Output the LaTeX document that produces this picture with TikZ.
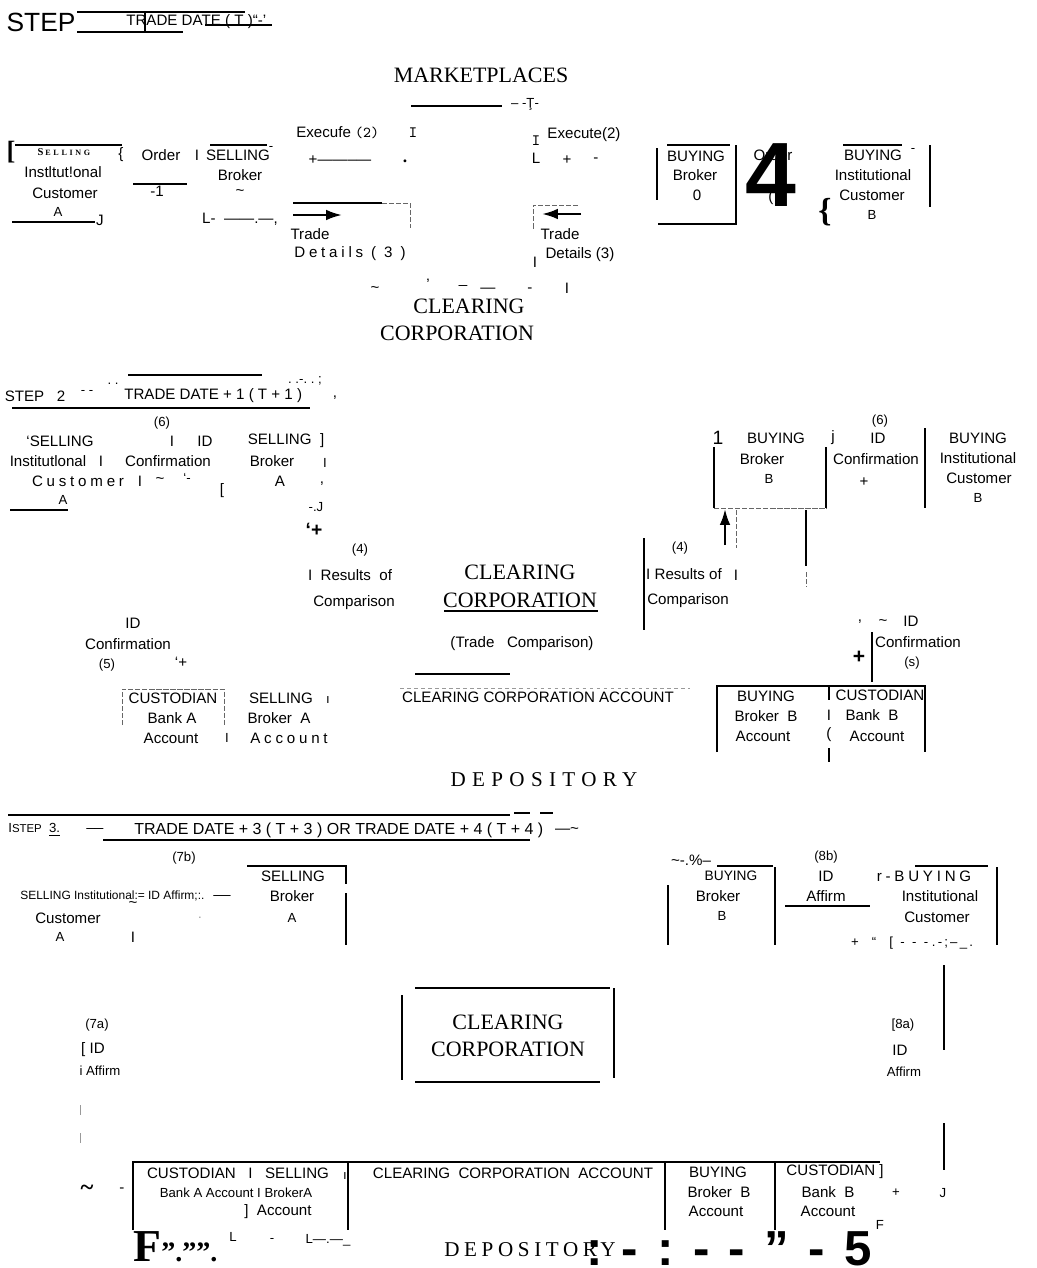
\documentclass[tikz,border=0pt]{standalone}
\usepackage{fontspec}
\setmainfont{Liberation Serif}
\setsansfont{Liberation Sans}
\newfontfamily\spsans[LetterSpace=25]{Liberation Sans}
\newfontfamily\spserif[LetterSpace=30]{Liberation Serif}
\newfontfamily\spserifb[LetterSpace=22]{Liberation Serif}
\usetikzlibrary{positioning,arrows.meta}
\newcommand{\gp}{\hskip 11pt}

\tikzset{
  lb/.style={font=\sffamily\fontsize{8.6}{10}\selectfont, inner sep=0pt},
  sm/.style={font=\sffamily\fontsize{7.5}{9}\selectfont, inner sep=0pt},
  sp/.style={font=\spsans\fontsize{8.6}{10}\selectfont, inner sep=0pt},
  corp/.style={font=\fontsize{12.5}{14}\selectfont, inner sep=0pt},
  dep/.style={font=\spserif\fontsize{12}{14}\selectfont, inner sep=0pt},
  ln/.style={line width=0.7pt},
  dl/.style={line width=0.5pt, dash pattern=on 3pt off 1pt, black!60},
  arr/.style={-{Latex[length=9pt,width=6pt]}, line width=1.3pt},
}

\begin{document}
\begin{tikzpicture}[x=0.02cm,y=-0.02cm]
\useasboundingbox (0,0) rectangle (1036,1268);

% ---------- step 1
\node[font=\sffamily\fontsize{15}{16}\selectfont, inner sep=0pt] (step1) at (41,22) {STEP};
\draw[ln] (77,12) -- (245,12);
\draw[ln] (77,32) -- (183,32);
\draw[line width=1.2pt] (145,12) -- (145,32);
\node[lb, anchor=west] (td1) at (126,22) {TRADE DATE ( T )“-’};
\draw[line width=1pt] (205,25) -- (272,25);

\node[corp] (mkt) at (481,75) {MARKETPLACES};
\draw[ln] (411,106) -- (502,106);
\node[sm] (mkt2) at (525,104) {– -Ţ-};

% selling customer A
\node[font=\bfseries\fontsize{15}{15}\selectfont, inner sep=0pt] (sca0) at (11,152) {[};
\draw[ln] (15,145) -- (122,145);
\node[font=\bfseries\fontsize{6}{6}\selectfont, inner sep=0pt] (sca1) at (64,152) {S\,{\fontsize{4.6}{6}\selectfont E\,\,L\,\,L\,\,I\,\,N\,\,G}};
\node[lb] (sca2) at (63,172) {Instltut!onal};
\node[lb] (sca3) at (65,193) {Customer};
\node[sm] (sca4) at (58,212) {A};
\draw[ln] (12,222) -- (95,222);
\node[lb] (sca5) at (100,220) {J};

\node[lb] (ord0) at (121,155) {\{};
\node[lb] (ord) at (161,155) {Order};
\node[lb] (ord1) at (197,155) {I};
\draw[ln] (133,184) -- (187,184);
\node[lb] (ord2) at (157,191) {-1};

% selling broker
\draw[ln] (210,145) -- (267,145);
\node[lb] (sb1) at (238,155) {SELLING};
\node[sm] (sb1b) at (271,148) {-};
\node[lb] (sb2) at (240,175) {Broker};
\node[lb] (sb3) at (240,193) {\textasciitilde};
\node[lb] (sb4) at (240,219) {L-\ \ ——.—,};

\node[lb, anchor=west] (ex1) at (296,133) {Execufe \texttt{(2)}};
\node[font=\ttfamily\fontsize{9}{9}\selectfont, inner sep=0pt] (ex2) at (413,133) {I};
\node[lb] (ex3) at (340,160) {+——–—};
\node[font=\bfseries, inner sep=0pt] (ex4) at (405,161) {.};

\draw[ln] (293,203) -- (382,203);
\draw[dl] (382,203) -- (410,203) -- (410,228);
\coordinate (t1s) at (293,215);
\coordinate (t1e) at (342,215);
\draw[arr] (t1s) -- (t1e);
\node[lb] (trd1) at (310,234) {Trade};
\node[sp] (det1) at (350,254) {Details ( 3 )};

\node[font=\ttfamily\fontsize{9}{9}\selectfont, inner sep=0pt] (ex5) at (536,141) {I};
\node[lb] (ex6) at (536,158) {L};
\node[lb] (ex7) at (584,135) {Execute(2)};
\node[lb] (ex8) at (567,160) {+};
\node[lb] (ex9) at (596,160) {-};

\draw[dl] (578,205) -- (533,205) -- (533,230);
\coordinate (t2s) at (581,214);
\coordinate (t2e) at (542,214);
\draw[arr] (t2s) -- (t2e);
\node[lb] (trd2) at (560,234) {Trade};
\node[lb] (det2) at (580,255) {Details (3)};
\node[lb] (det3) at (535,262) {I};

\node[lb] (nz1) at (375,290) {\textasciitilde};
\node[lb] (nz2) at (428,284) {’};
\node[lb] (nz3) at (463,285) {\_};
\node[lb] (nz4) at (488,290) {—};
\node[lb] (nz5) at (530,290) {-};
\node[lb] (nz6) at (567,288) {I};

\node[corp] (cc1) at (469,306) {CLEARING};
\node[corp] (cc2) at (457,333) {CORPORATION};

% buying broker
\draw[ln] (657,148) -- (657,200);
\draw[ln] (667,145) -- (730,145);
\node[lb] (bb1) at (696,156) {BUYING};
\node[lb] (bb2) at (695,175) {Broker};
\node[lb] (bb3) at (697,195) {0};
\draw[ln] (736,145) -- (736,224) -- (658,224);
\node[lb] (ord3) at (773,155) {Order};
\node[lb] (ord4) at (771,198) {(};
\node[font=\sffamily\bfseries\fontsize{52}{52}\selectfont, inner sep=0pt] (four) at (771,175) {4};
\node[font=\bfseries\fontsize{19}{19}\selectfont, inner sep=0pt] (brc) at (825,212) {\{};

% buying customer B
\draw[ln] (843,145) -- (902,145);
\node[lb] (bc1) at (873,155) {BUYING};
\node[sm] (bc1b) at (913,150) {-};
\node[lb] (bc2) at (873,175) {Institutional};
\node[lb] (bc3) at (872,195) {Customer};
\node[sm] (bc4) at (872,215) {B};
\draw[ln] (930,145) -- (930,207);

% ---------- step 2
\node[lb] (step2) at (35,396) {STEP\ \ \ 2};
\node[sm] (s2a) at (87,392) {- -};
\node[sm] (s2b) at (113,384) {.\ .};
\node[lb, anchor=west] (td2) at (124,396) {TRADE DATE + 1 ( T + 1 )};
\draw[ln] (128,375) -- (262,375);
\node[sm] (s2c) at (305,381) {.\ .-.\ .\ ;};
\draw[ln] (12,408) -- (310,408);
\node[lb] (s2d) at (335,398) {,};

\node[sm] (six1) at (162,423) {(6)};
\node[lb] (sic1) at (60,441) {‘SELLING};
\node[lb] (sic2) at (48,461) {Institutlonal};
\node[sp] (sic3) at (78,481) {Customer};
\node[sm] (sic4) at (63,500) {A};
\draw[ln] (10,510) -- (68,510);
\node[lb] (sic5) at (101,461) {I};
\node[lb] (sic6) at (140,481) {I};
\node[lb] (idc1) at (172,441) {I};
\node[lb] (idc2) at (205,441) {ID};
\node[lb] (idc3) at (168,461) {Confirmation};
\node[lb] (idc4) at (160,481) {\textasciitilde};
\node[sm] (idc5) at (187,478) {‘-};

\node[lb] (sba1) at (286,441) {SELLING\ \ ]};
\node[lb] (sba2) at (272,461) {Broker};
\node[lb] (sba3) at (280,481) {A};
\node[sm] (sba4) at (325,463) {I};
\node[lb] (sba5) at (322,484) {,};
\node[lb] (sba6) at (222,491) {[};
\node[sm] (sba7) at (316,507) {-.J};
\node[font=\sffamily\bfseries\fontsize{11}{11}\selectfont, inner sep=0pt] (sba8) at (314,530) {‘+};

\node[sm] (r4a) at (360,550) {(4)};
\node[lb] (r4b) at (350,575) {I\ \ Results\ \ of};
\node[lb] (r4c) at (354,603) {Comparison};

\node[corp] (cc3) at (520,572) {CLEARING};
\node[corp] (cc4) at (520,600) {CORPORATION};
\draw[ln] (444,611) -- (598,611);
\node[lb] (tc) at (522,644) {(Trade\ \ \ Comparison)};
\draw[ln] (415,674) -- (510,674);
\draw[line width=0.5pt, black!40, dash pattern=on 2pt off 2pt] (400,688) -- (690,688);
\node[lb] (cca1) at (538,697) {CLEARING CORPORATION ACCOUNT};

\draw[ln] (644,538) -- (644,630);
\node[sm] (r4d) at (680,548) {(4)};
\node[lb] (r4e) at (684,574) {I Results of};
\node[lb] (r4f) at (688,601) {Comparison};
\node[lb] (r4g) at (736,575) {I};

% buying broker B
\node[font=\sffamily\fontsize{11}{11}\selectfont, inner sep=0pt] (bbb0) at (718,438) {1};
\node[lb] (bbb1) at (776,438) {BUYING};
\node[lb] (bbb2) at (762,459) {Broker};
\node[sm] (bbb3) at (769,479) {B};
\draw[ln] (714,447) -- (714,508);
\draw[ln] (826,447) -- (826,508);
\draw[dl] (714,508) -- (827,508);
\coordinate (upS) at (725,545);
\coordinate (upE) at (725,509);
\draw[arr] (upS) -- (upE);
\draw[dl] (736,510) -- (736,548);
\draw[ln] (806,510) -- (806,566);
\draw[dl] (806,572) -- (806,587);

\node[lb] (j6) at (833,438) {j};
\node[sm] (six2) at (880,421) {(6)};
\node[lb] (idc7) at (878,438) {ID};
\node[lb] (idc8) at (876,459) {Confirmation};
\node[lb] (idc9) at (864,482) {+};
\draw[ln] (925,428) -- (925,508);
\node[lb] (bcb1) at (978,438) {BUYING};
\node[lb] (bcb2) at (978,458) {Institutional};
\node[lb] (bcb3) at (979,478) {Customer};
\node[sm] (bcb4) at (978,498) {B};

\node[lb] (c5a) at (133,623) {ID};
\node[lb] (c5b) at (128,644) {Confirmation};
\node[sm] (c5c) at (107,665) {(5)};
\node[lb] (c5d) at (181,662) {‘+};

\node[lb] (csa) at (860,622) {,};
\node[lb] (csb) at (883,623) {\textasciitilde};
\node[lb] (csc) at (911,621) {ID};
\draw[ln] (872,632) -- (872,682);
\node[font=\sffamily\bfseries\fontsize{12}{12}\selectfont, inner sep=0pt] (csd) at (859,657) {+};
\node[lb] (cse) at (918,642) {Confirmation};
\node[sm] (csf) at (912,663) {(s)};

% accounts
\draw[dl] (122,725) -- (122,689) -- (224,689) -- (224,725);
\node[lb] (cua1) at (173,698) {CUSTODIAN};
\node[lb] (cua2) at (172,718) {Bank A};
\node[lb] (cua3) at (171,738) {Account};
\node[sm] (cua4) at (227,738) {I};
\node[lb] (sbaa1) at (281,698) {SELLING};
\node[sm] (sbaa1b) at (328,700) {ı};
\node[lb] (sbaa2) at (279,718) {Broker\ \ A};
\node[sp] (sbaa3) at (289,738) {Account};

\draw[ln] (717,752) -- (717,686) -- (925,686) -- (925,752);
\draw[ln] (829,687) -- (829,700);
\draw[ln] (829,748) -- (829,762);
\node[lb] (bba1) at (766,696) {BUYING};
\node[lb] (bba2) at (766,716) {Broker\ \ B};
\node[lb] (bba3) at (763,736) {Account};
\node[lb] (bba4) at (829,715) {I};
\node[lb] (bba5) at (829,735) {(};
\node[lb] (cub1) at (880,695) {CUSTODIAN};
\node[lb] (cub2) at (872,715) {Bank\ \ B};
\node[lb] (cub3) at (877,736) {Account};

\node[dep] (dep1) at (544,780) {DEPOSITORY};

% ---------- step 3
\draw[ln] (8,815) -- (510,815);
\draw[ln] (514,813) -- (530,813);
\draw[ln] (540,813) -- (553,813);
\node[sm, anchor=west] (step3) at (8,830) {I{\fontsize{6.5}{8}\selectfont STEP}\ \ \underline{3.}};
\node[lb] (s3a) at (95,828) {\_\_};
\node[font=\sffamily\fontsize{9.1}{10}\selectfont, inner sep=0pt, anchor=west] (td3) at (134,830) {TRADE DATE + 3 ( T + 3 ) OR TRADE DATE + 4 ( T + 4 )};
\node[lb] (s3b) at (567,831) {—\textasciitilde};
\draw[ln] (103,840) -- (530,840);

\node[sm] (s7b) at (184,858) {(7b)};
\draw[ln] (247,866) -- (347,866);
\draw[ln] (346,866) -- (346,884);
\draw[ln] (346,893) -- (346,945);
\node[lb] (sbb1) at (293,876) {SELLING};
\node[lb] (sbb2) at (292,896) {Broker};
\node[sm] (sbb3) at (292,918) {A};
\node[font=\sffamily\fontsize{6.8}{8}\selectfont, inner sep=0pt, anchor=west] (sia1) at (20,896) {SELLING Institutional:= ID Affirm;:.};
\node[lb] (sia2) at (222,895) {\_\_};
\node[lb] (sia3) at (68,918) {Customer};
\node[sm] (sia4) at (60,937) {A};
\node[lb] (sia5) at (133,905) {\textasciitilde};
\node[sm, black!40] (sia6) at (200,918) {.};
\node[lb] (sia7) at (133,937) {I};

\node[lb] (s3c) at (691,860) {\textasciitilde-.\%–};
\draw[ln] (717,866) -- (773,866);
\draw[ln] (668,885) -- (668,945);
\draw[ln] (775,867) -- (775,945);
\node[font=\sffamily\fontsize{7.8}{9}\selectfont, inner sep=0pt] (bbc1) at (731,876) {BUYING};
\node[lb] (bbc2) at (718,896) {Broker};
\node[sm] (bbc3) at (722,916) {B};
\node[sm] (s8b) at (826,857) {(8b)};
\node[lb] (af8b1) at (826,876) {ID};
\node[lb] (af8b2) at (826,896) {Affirm};
\draw[ln] (785,906) -- (870,906);
\node[sp] (bcc1) at (924,876) {r-BUYING};
\draw[ln] (915,866) -- (988,866);
\node[lb] (bcc2) at (940,896) {Institutional};
\node[lb] (bcc3) at (937,917) {Customer};
\draw[ln] (997,867) -- (997,945);
\node[sm] (s3d) at (912,943) {+\quad “\quad [\ \ -\ \ -\ \ -\ .\,-\,;\,–\,\_\,.};

\draw[ln] (944,965) -- (944,1050);
\node[sm] (a7a) at (97,1025) {(7a)};
\node[lb] (a7b) at (93,1050) {[\ ID};
\node[sm] (a7c) at (100,1071) {i Affirm};

\draw[ln] (415,988) -- (610,988);
\draw[ln] (402,995) -- (402,1080);
\draw[ln] (614,988) -- (614,1078);
\draw[ln] (415,1082) -- (600,1082);
\node[corp] (cc5) at (508,1022) {CLEARING};
\node[corp] (cc6) at (508,1049) {CORPORATION};

\node[sm] (a8a) at (903,1025) {[8a)};
\node[lb] (a8b) at (900,1050) {ID};
\node[sm] (a8c) at (904,1072) {Affirm};

\draw[black!40] (80,1105) -- (80,1115);
\draw[black!40] (80,1133) -- (80,1143);

% depository accounts
\draw[ln] (133,1230) -- (133,1162) -- (880,1162);
\draw[ln] (348,1163) -- (348,1230);
\draw[ln] (665,1162) -- (665,1230);
\draw[ln] (775,1162) -- (775,1230);
\node[lb] (cuc1) at (238,1173) {CUSTODIAN\ \ \ I\ \ \ SELLING};
\node[sm] (cuc1b) at (345,1176) {ı};
\node[sm] (cuc2) at (236,1193) {Bank A Account I BrokerA};
\node[lb] (cuc3) at (278,1212) {]\ \ Account};
\node[lb] (cca2) at (513,1173) {CLEARING\ \ CORPORATION\ \ ACCOUNT};
\node[lb] (bbd1) at (718,1172) {BUYING};
\node[lb] (bbd2) at (719,1192) {Broker\ \ B};
\node[lb] (bbd3) at (716,1211) {Account};
\node[lb] (cud1) at (835,1172) {CUSTODIAN\ ]};
\node[lb] (cud2) at (828,1192) {Bank\ \ B};
\node[lb] (cud3) at (828,1211) {Account};
\node[sm] (s3e) at (896,1193) {+};
\node[sm] (s3f) at (943,1193) {J};
\draw[ln] (944,1123) -- (944,1170);
\node[sm] (s3g) at (880,1225) {F};
\node[font=\bfseries\fontsize{14}{14}\selectfont, inner sep=0pt] (s3h) at (87,1190) {\textasciitilde};
\node[lb] (s3i) at (122,1190) {-};

\node[font=\bfseries\fontsize{26}{26}\selectfont, inner sep=0pt, anchor=west] (fq) at (133,1247) {F{\fontsize{16}{16}\selectfont ”.””.}};
\node[sm] (s3j) at (233,1237) {L};
\node[sm] (s3k) at (272,1240) {-};
\node[sm] (s3l) at (328,1240) {L—.—\_};
\node[font=\spserifb\fontsize{12}{14}\selectfont, inner sep=0pt] (dep2) at (530,1250) {DEPOSITORY};
\node[font=\sffamily\bfseries\fontsize{28}{28}\selectfont, inner sep=0pt, anchor=east] (five) at (872,1249) {:\gp-\gp:\gp-\gp-\gp”\gp-\gp5};
\end{tikzpicture}
\end{document}
